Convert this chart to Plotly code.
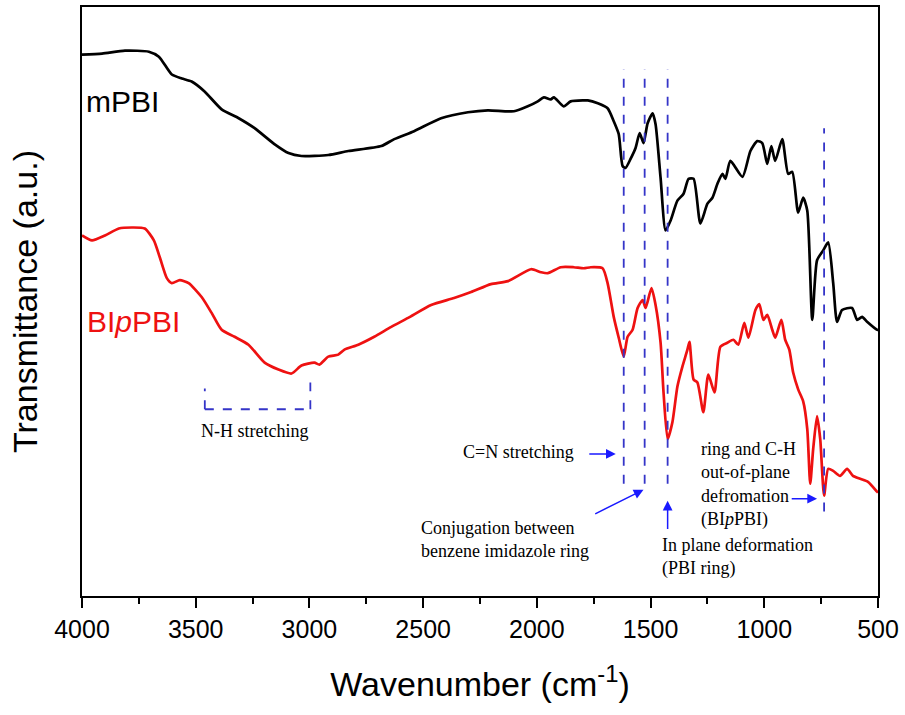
import plotly.graph_objects as go

# ---- data (wavenumber in cm^-1, transmittance in arbitrary units) ----
mpbi_wn = [4000, 3912, 3811, 3706, 3662, 3605, 3561, 3518, 3461, 3386, 3311, 3241, 3154, 3092,
           3035, 2917, 2829, 2684, 2627, 2540, 2421, 2303, 2215, 2101, 2040, 1996, 1969, 1939,
           1925, 1882, 1851, 1794, 1776, 1732, 1689, 1662, 1640, 1623, 1610, 1588, 1566, 1548,
           1531, 1513, 1491, 1478, 1456, 1434, 1412, 1382, 1355, 1333, 1311, 1281, 1250, 1228,
           1206, 1184, 1171, 1149, 1096, 1061, 1031, 1009, 987, 969, 952, 921, 895, 877, 851,
           829, 811, 789, 768, 741, 719, 697, 680, 658, 614, 592, 570, 548, 504, 500]
mpbi_t = [545, 546, 549, 548, 543, 525, 521, 518, 508, 490, 481, 471, 455, 446,
          443, 444, 448, 453, 460, 468, 481, 487, 489, 488, 493, 498, 502, 500,
          502, 493, 498, 499, 499, 496, 491, 478, 465, 433, 431, 440, 451, 466,
          456, 476, 486, 475, 421, 368, 378, 398, 405, 420, 420, 375, 395, 401,
          415, 425, 420, 438, 422, 448, 458, 456, 435, 453, 438, 460, 425, 427, 386,
          401, 388, 278, 338, 348, 356, 315, 276, 288, 290, 278, 281, 276, 268, 268]

bippbi_wn = [4000, 3956, 3899, 3838, 3781, 3724, 3684, 3658, 3627, 3605, 3570, 3531, 3474, 3430,
             3386, 3329, 3268, 3197, 3136, 3079, 3035, 2978, 2956, 2917, 2873, 2846, 2785, 2715,
             2640, 2566, 2465, 2364, 2289, 2202, 2127, 2026, 1982, 1952, 1895, 1838, 1794, 1763,
             1711, 1689, 1662, 1640, 1618, 1601, 1579, 1557, 1535, 1522, 1496, 1478, 1456, 1443,
             1425, 1404, 1382, 1360, 1338, 1329, 1311, 1294, 1268, 1246, 1219, 1193, 1162, 1136,
             1114, 1088, 1070, 1039, 1022, 1004, 987, 965, 952, 925, 908, 890, 873, 851, 829,
             811, 798, 785, 768, 754, 737, 719, 697, 667, 636, 610, 579, 544, 504, 500]
bippbi_t = [363, 358, 363, 370, 371, 370, 358, 341, 320, 315, 318, 315, 301, 285,
            268, 261, 253, 235, 228, 224, 232, 235, 233, 241, 243, 248, 253, 261,
            271, 280, 293, 300, 306, 314, 317, 329, 326, 325, 331, 331, 330, 331,
            330, 315, 281, 260, 241, 261, 268, 290, 298, 290, 310, 293, 255, 205,
            158, 175, 211, 231, 248, 256, 218, 215, 185, 223, 205, 251, 255, 258,
            253, 275, 260, 288, 294, 278, 283, 268, 260, 278, 258, 248, 225, 208, 196,
            168, 113, 148, 181, 158, 101, 128, 126, 121, 128, 121, 118, 115, 105, 104]

peak_lines_wn = [1618, 1526, 1425]
oop_line_wn = 737
nh_bracket_wn = [3460, 2996]

x_title = "Wavenumber (cm<sup>-1</sup>)"
y_title = "Transmittance (a.u.)"

BLUE = "#3535c8"
SERIF = "Liberation Serif, Times New Roman, serif"
SANS = "Liberation Sans, Arial, sans-serif"

fig = go.Figure()
fig.add_trace(go.Scatter(x=mpbi_wn, y=mpbi_t, mode="lines", name="mPBI",
                         line=dict(color="black", width=2.7, shape="spline", smoothing=0.6)))
fig.add_trace(go.Scatter(x=bippbi_wn, y=bippbi_t, mode="lines", name="BIpPBI",
                         line=dict(color="#ee1111", width=2.7, shape="spline", smoothing=0.6)))

dash = dict(color=BLUE, width=1.8, dash="dash")
for w in peak_lines_wn:
    fig.add_shape(type="line", x0=w, x1=w, y0=113, y1=530, xref="x", yref="y", line=dash)
fig.add_shape(type="line", x0=oop_line_wn, x1=oop_line_wn, y0=85, y1=471, xref="x", yref="y", line=dash)
# N-H bracket
fig.add_shape(type="line", x0=nh_bracket_wn[0], x1=nh_bracket_wn[0], y0=188, y1=209, line=dash)
fig.add_shape(type="line", x0=nh_bracket_wn[0], x1=nh_bracket_wn[1], y0=188, y1=188, line=dash)
fig.add_shape(type="line", x0=nh_bracket_wn[1], x1=nh_bracket_wn[1], y0=188, y1=215, line=dash)

tfont = dict(family=SERIF, size=18, color="black")
fig.add_annotation(x=3241, y=166, text="N-H stretching", showarrow=False, font=tfont)
fig.add_annotation(x=1829, y=145, text="C=N stretching", showarrow=False, xanchor="right", font=tfont)
fig.add_annotation(x=2517, y=57, text="Conjugation between<br>benzene imidazole ring", showarrow=False,
                   xanchor="left", align="left", font=tfont)
fig.add_annotation(x=1460, y=39, text="In plane deformation<br>(PBI ring)", showarrow=False,
                   xanchor="left", align="left", font=tfont)
fig.add_annotation(x=1285, y=112, text="ring and C-H<br>out-of-plane<br>defromation<br>(BI<i>p</i>PBI)",
                   showarrow=False, xanchor="left", align="left", font=tfont)

arrow = dict(showarrow=True, arrowhead=2, arrowsize=1.3, arrowwidth=1.5, arrowcolor="#1a1aff",
             axref="x", ayref="y", text="", standoff=0)
fig.add_annotation(x=1653, y=143, ax=1776, ay=143, **arrow)
fig.add_annotation(x=1531, y=107, ax=1750, ay=82, **arrow)
fig.add_annotation(x=1425, y=96, ax=1425, ay=66, **arrow)
fig.add_annotation(x=768, y=98, ax=886, ay=98, **arrow)

# series labels
fig.add_annotation(x=3990, y=498, text="mPBI", showarrow=False, xanchor="left",
                   font=dict(family=SANS, size=30, color="black"))
fig.add_annotation(x=3985, y=276, text="BI<i>p</i>PBI", showarrow=False, xanchor="left",
                   font=dict(family=SANS, size=30, color="#ee1111"))

fig.update_layout(
    width=905, height=715,
    margin=dict(l=82, r=27, t=5, b=119),
    plot_bgcolor="white", paper_bgcolor="white",
    showlegend=False,
    font=dict(family=SANS, color="black"),
)
fig.update_xaxes(
    range=[4000, 500], autorange=False,
    tickmode="linear", tick0=500, dtick=500,
    ticks="outside", ticklen=10, tickwidth=2, tickcolor="black",
    minor=dict(dtick=250, ticks="outside", ticklen=6, tickwidth=2, tickcolor="black", showgrid=False),
    showline=True, linewidth=2, linecolor="black", mirror=True,
    showgrid=False, zeroline=False,
    tickfont=dict(family=SANS, size=25, color="black"),
    title=dict(text=x_title, font=dict(family=SANS, size=34, color="black"), standoff=30),
)
fig.update_yaxes(
    range=[0, 593], autorange=False,
    showticklabels=False, ticks="",
    showline=True, linewidth=2, linecolor="black", mirror=True,
    showgrid=False, zeroline=False,
    title=dict(text=y_title, font=dict(family=SANS, size=34, color="black"), standoff=32),
)

fig.write_html("out.html")
